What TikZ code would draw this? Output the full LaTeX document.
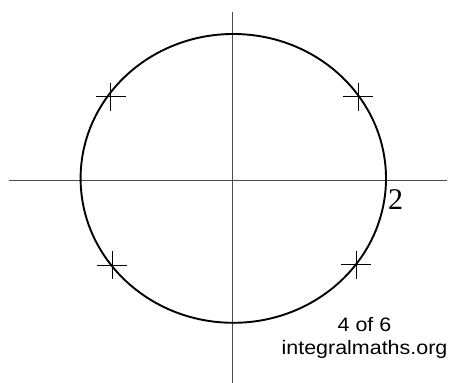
\documentclass[tikz,border=0pt]{standalone}
\usepackage{fontspec}
\setmainfont{Liberation Serif}
\newfontfamily\labelsans{Liberation Sans}
\tikzset{
  axisline/.style={draw=black!70, line width=1.3pt},
  curveline/.style={draw=black, line width=1.9pt},
  crossline/.style={draw=black, line width=0.9pt},
  footnote/.style={font=\labelsans\fontsize{19.5}{22.7}\selectfont, inner sep=0pt, align=center}
}
\begin{document}
\begin{tikzpicture}[x=1pt,y=-1pt]
\useasboundingbox (0,0) rectangle (451,383);
% axes
\coordinate (xl) at (8.5,180.5);
\coordinate (xr) at (447,180.5);
\coordinate (yt) at (232.8,11.5);
\coordinate (yb) at (232.8,383);
\draw[axisline] (xl) -- (xr);
\draw[axisline] (yt) -- (yb);
% ellipse
\coordinate (c) at (233.3,178.4);
\draw[curveline] (c) ellipse [x radius=152.7, y radius=144.4];
% crosses
\coordinate (p1) at (110.5,96.5);
\coordinate (p2) at (358.3,96.5);
\coordinate (p3) at (112,265);
\coordinate (p4) at (356,264.5);
\foreach \p in {p1,p2,p3,p4}{
  \draw[crossline] ([xshift=-15pt]\p) -- ([xshift=15pt]\p);
  \draw[crossline] ([yshift=14pt]\p) -- ([yshift=-14pt]\p);
}
% labels
\node[inner sep=0pt, font=\fontsize{30}{30}\selectfont] (two) at (395.5,199.5) {2};
\node[footnote] (credit) at (364.5,338) {\scalebox{1.1}[1]{4 of 6}\\\scalebox{1.1}[1]{integralmaths.org}};
\end{tikzpicture}
\end{document}
